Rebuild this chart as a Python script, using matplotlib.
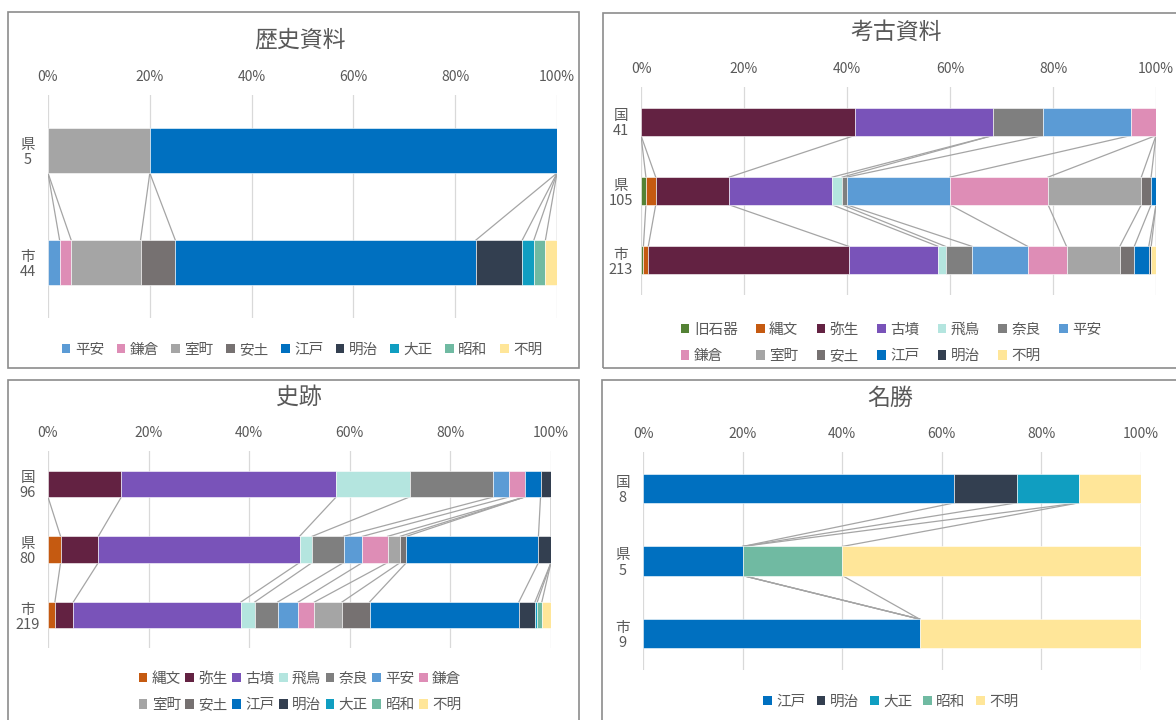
import numpy as np
import matplotlib
matplotlib.use("Agg")
from matplotlib import pyplot as plt
from matplotlib.patches import Patch, Rectangle

plt.rcParams['font.family'] = ['Noto Sans CJK JP', 'DejaVu Sans']

W, H = 1176, 720
TEXT = '#595959'

# colour of each period
period_colors = {
    '旧石器': '#548235', '縄文': '#C55A11', '弥生': '#632242', '古墳': '#7953B9',
    '飛鳥': '#B4E5DF', '奈良': '#7F7F7F', '平安': '#5B9BD5', '鎌倉': '#DE8DB6',
    '室町': '#A5A5A5', '安土': '#767171', '江戸': '#0070C0', '明治': '#333F50',
    '大正': '#109EC1', '昭和': '#70BAA2', '不明': '#FFE699',
}

# 歴史資料
rekishi_periods = ['平安', '鎌倉', '室町', '安土', '江戸', '明治', '大正', '昭和', '不明']
rekishi_ken = [0, 0, 1, 0, 4, 0, 0, 0, 0]
rekishi_shi = [1, 1, 6, 3, 26, 4, 1, 1, 1]

# 考古資料
koko_periods = ['旧石器', '縄文', '弥生', '古墳', '飛鳥', '奈良', '平安',
                '鎌倉', '室町', '安土', '江戸', '明治', '不明']
koko_kuni = [0, 0, 17, 11, 0, 4, 7, 2, 0, 0, 0, 0, 0]
koko_ken = [1, 2, 15, 21, 2, 1, 21, 20, 19, 2, 1, 0, 0]
koko_shi = [1, 2, 83, 37, 3, 11, 23, 16, 22, 6, 6, 1, 2]

# 史跡
shiseki_periods = ['縄文', '弥生', '古墳', '飛鳥', '奈良', '平安', '鎌倉',
                   '室町', '安土', '江戸', '明治', '大正', '昭和', '不明']
shiseki_kuni = [0, 14, 41, 14, 16, 3, 3, 0, 0, 3, 2, 0, 0, 0]
shiseki_ken = [2, 6, 32, 2, 5, 3, 4, 2, 1, 21, 2, 0, 0, 0]
shiseki_shi = [3, 8, 73, 6, 10, 9, 7, 12, 12, 65, 7, 1, 2, 4]

# 名勝
meisho_periods = ['江戸', '明治', '大正', '昭和', '不明']
meisho_kuni = [5, 1, 1, 0, 1]
meisho_ken = [1, 0, 0, 1, 3]
meisho_shi = [5, 0, 0, 0, 4]


def fig_rect(x0, y0, x1, y1):
    # pixel box (top-left origin) -> figure fraction
    return [x0 / W, 1 - y1 / H, (x1 - x0) / W, (y1 - y0) / H]


def frame(x0, y0, x1, y1):
    l, b, w, h = fig_rect(x0, y0, x1, y1)
    fig.add_artist(Rectangle((l, b), w, h, transform=fig.transFigure,
                             fill=False, edgecolor='#8C8C8C', lw=1.2))


def stacked_panel(box, title, title_xy, periods, rows, owners,
                  legend_xy, ncol, colspace):
    ax = fig.add_axes(fig_rect(*box))
    n = len(rows)
    fracs = [np.array(r, dtype=float) / sum(r) for r in rows]
    names = [f'{o}\n{sum(r)}' for o, r in zip(owners, rows)]
    bar_h = 0.4

    for i, f in enumerate(fracs):
        left = np.concatenate([[0], np.cumsum(f)[:-1]])
        for s, p in enumerate(periods):
            if f[s] > 0:
                ax.barh(i, f[s], left=left[s], height=bar_h,
                        color=period_colors[p], edgecolor='white',
                        linewidth=0.4, zorder=3)

    # series lines between neighbouring bars
    for i in range(n - 1):
        top = np.cumsum(fracs[i])
        bot = np.cumsum(fracs[i + 1])
        for s in range(len(periods)):
            ax.plot([top[s], bot[s]], [i + bar_h / 2, i + 1 - bar_h / 2],
                    color='#A5A5A5', lw=0.9, zorder=2)

    ax.set_xlim(0, 1)
    ax.set_ylim(n - 0.5, -0.5)
    ticks = np.linspace(0, 1, 6)
    ax.set_xticks(ticks)
    ax.set_xticklabels([f'{int(round(t * 100))}%' for t in ticks])
    ax.xaxis.tick_top()
    ax.tick_params(axis='x', length=0, pad=8, labelsize=10, labelcolor=TEXT)
    ax.set_yticks(range(n))
    ax.set_yticklabels(names, linespacing=1.1)
    ax.tick_params(axis='y', length=0, pad=14.5, labelsize=10.5, labelcolor=TEXT)
    for lbl in ax.get_yticklabels():
        lbl.set_horizontalalignment('center')
    ax.grid(axis='x', color='#D9D9D9', lw=0.9)
    ax.set_axisbelow(True)
    for sp in ax.spines.values():
        sp.set_visible(False)

    fig.text(title_xy[0] / W, 1 - title_xy[1] / H, title, ha='center',
             va='center', fontsize=16.5, color=TEXT)

    handles = [Patch(facecolor=period_colors[p]) for p in periods]
    labels = list(periods)
    nrow = int(np.ceil(len(periods) / ncol))
    if nrow > 1:
        # reorder so entries read across rows
        order = []
        for c in range(ncol):
            for r in range(nrow):
                k = r * ncol + c
                if k < len(periods):
                    order.append(k)
        handles = [handles[k] for k in order]
        labels = [labels[k] for k in order]
    fig.legend(handles, labels, loc='center',
               bbox_to_anchor=(legend_xy[0] / W, 1 - legend_xy[1] / H),
               ncol=ncol, frameon=False, fontsize=10.5, labelcolor=TEXT,
               handlelength=0.6, handleheight=0.6, handletextpad=0.3,
               columnspacing=colspace, labelspacing=0.85, borderpad=0)
    return ax


fig = plt.figure(figsize=(W / 100, H / 100), dpi=100)

frame(8, 12, 579, 368)
frame(603, 13, 1190, 368)
frame(8, 380, 579, 730)
frame(602, 380, 1190, 730)

stacked_panel((48, 95, 557, 318), '歴史資料', (300, 40), rekishi_periods,
              [rekishi_ken, rekishi_shi], ['県', '市'], (302, 350), 9, 0.85)
stacked_panel((641, 87, 1156, 295), '考古資料', (896, 32), koko_periods,
              [koko_kuni, koko_ken, koko_shi], ['国', '県', '市'],
              (891, 343), 7, 1.25)
stacked_panel((48, 451, 551, 648), '史跡', (299, 397), shiseki_periods,
              [shiseki_kuni, shiseki_ken, shiseki_shi], ['国', '県', '市'],
              (300, 692), 7, 0.3)
stacked_panel((643, 452, 1141, 670), '名勝', (890, 398), meisho_periods,
              [meisho_kuni, meisho_ken, meisho_shi], ['国', '県', '市'],
              (891, 702), 5, 0.75)

fig.savefig('out.png', dpi=100)
